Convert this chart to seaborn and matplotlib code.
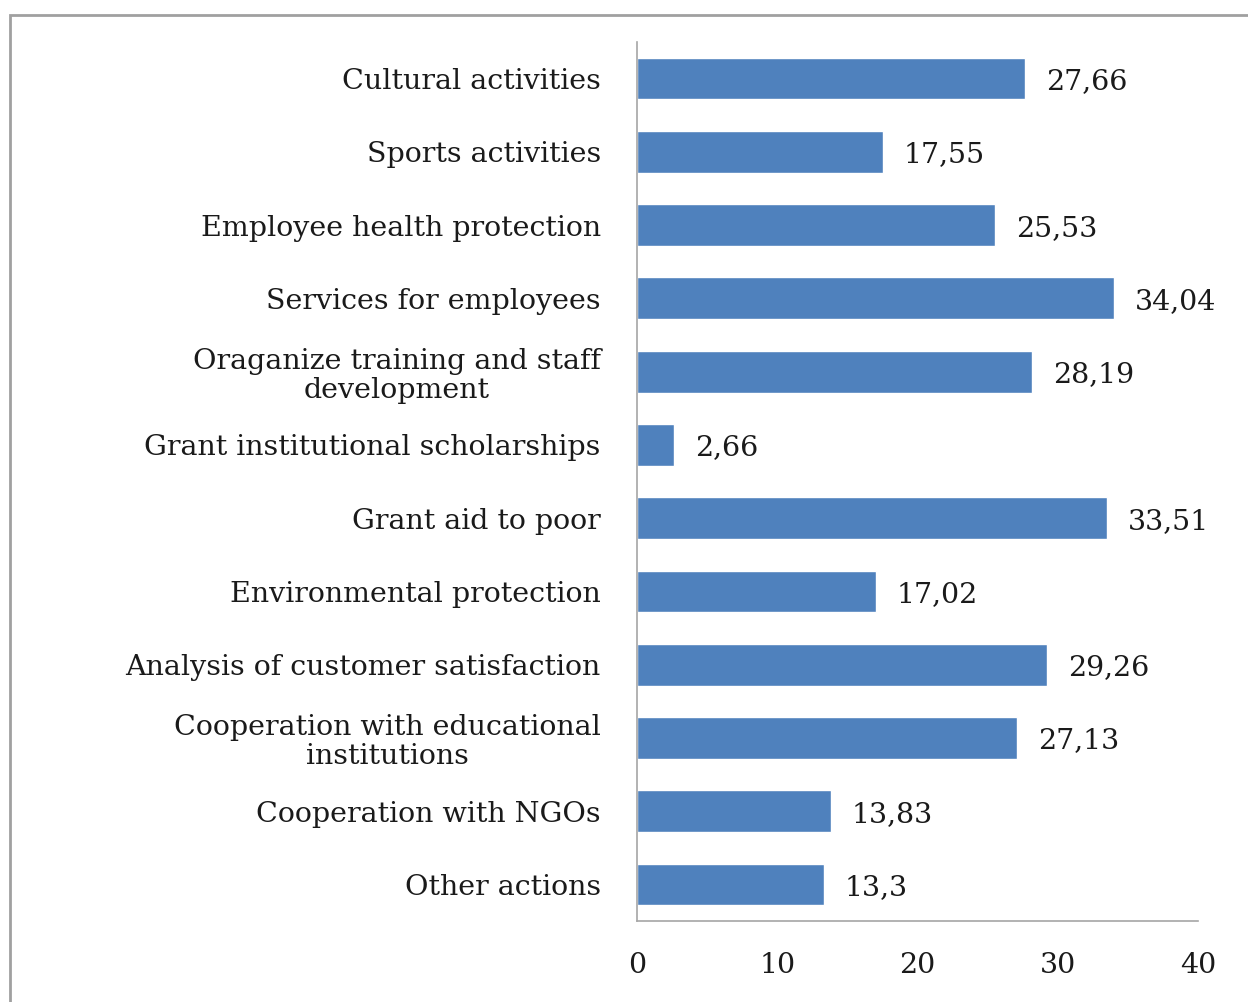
import matplotlib
matplotlib.use("Agg")
import matplotlib.pyplot as plt
import seaborn as sns
import pandas as pd
from matplotlib.patches import Rectangle

categories = [
    "Cultural activities",
    "Sports activities",
    "Employee health protection",
    "Services for employees",
    "Oraganize training and staff\ndevelopment",
    "Grant institutional scholarships",
    "Grant aid to poor",
    "Environmental protection",
    "Analysis of customer satisfaction",
    "Cooperation with educational\ninstitutions",
    "Cooperation with NGOs",
    "Other actions",
]
values = [27.66, 17.55, 25.53, 34.04, 28.19, 2.66, 33.51, 17.02, 29.26, 27.13, 13.83, 13.3]
value_labels = ["27,66", "17,55", "25,53", "34,04", "28,19", "2,66",
                "33,51", "17,02", "29,26", "27,13", "13,83", "13,3"]
xticks = [0, 10, 20, 30, 40]

sns.set_style("white")
plt.rcParams['font.family'] = ['DejaVu Serif']

df = pd.DataFrame({"category": categories, "value": values})

fig = plt.figure(figsize=(12.48, 10.02), dpi=100)
ax = fig.add_axes([0.5104, 0.0808, 0.4495, 0.8773])

sns.barplot(data=df, x="value", y="category", orient="h", color="#4F81BD",
            saturation=1, width=0.57, ax=ax)

ax.set_xlim(0, 40)
ax.set_ylim(len(categories) - 0.5, -0.5)
ax.set_xticks(xticks)
ax.set_xticklabels([str(t) for t in xticks])
ax.set_xlabel("")
ax.set_ylabel("")

fs = 20.5
for lbl in ax.get_yticklabels():
    lbl.set_multialignment("center")
    lbl.set_linespacing(1.1)
ax.tick_params(axis="y", length=0, pad=26, labelsize=fs, labelcolor="#1a1a1a")
ax.tick_params(axis="x", length=0, pad=22, labelsize=fs, labelcolor="#1a1a1a")

for i, (v, t) in enumerate(zip(values, value_labels)):
    ax.annotate(t, xy=(v, i), xytext=(15, 0), textcoords="offset points",
                va="center_baseline", ha="left", fontsize=fs, color="#1a1a1a")

for side in ["top", "right"]:
    ax.spines[side].set_visible(False)
for side in ["left", "bottom"]:
    ax.spines[side].set_color("#A6A6A6")
    ax.spines[side].set_linewidth(1.2)

# outer chart frame
fig.patches.append(Rectangle((10 / 1248, -0.05), 1.2, 1 - 15 / 1002 + 0.05,
                             transform=fig.transFigure, fill=False,
                             edgecolor="#A0A0A0", linewidth=2))

fig.savefig("out.png", dpi=100)
